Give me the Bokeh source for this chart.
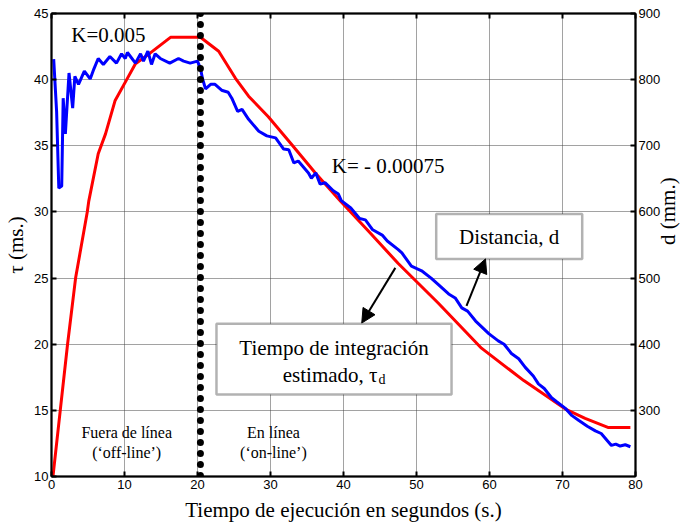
from math import pi
from bokeh.plotting import figure
from bokeh.models import (Range1d, LinearAxis, FixedTicker, Span, Label,
                          BoxAnnotation, Arrow, NormalHead)
from bokeh.embed import file_html
from bokeh.resources import INLINE

# ---- data ----
# estimated integration time tau (ms), left axis
time_tau = [0.2, 1.2, 2.2, 3.3, 4.9, 5.1, 6.4, 7.4, 8.7, 10.3, 11.5, 13.5,
            16.3, 20.4, 22.9, 25.2, 27.0, 29.7, 32.9, 36.2, 39.6, 43.5, 47.5,
            53.0, 58.9, 64.7, 70.4, 73.1, 76.3, 79.3]
tau_values = [10.0, 15.0, 20.0, 25.0, 30.0, 30.8, 34.4, 35.9, 38.4, 40.0, 41.2,
              42.0, 43.2, 43.2, 42.15, 40.1, 38.75, 37.2, 35.1, 32.9, 30.8,
              28.5, 26.1, 23.1, 19.7, 17.25, 15.1, 14.4, 13.7, 13.7]

# distance d (mm), right axis
time_d = [0.3, 0.7, 1.0, 1.4, 1.6, 1.9, 2.4, 2.9, 3.2, 3.7, 4.5, 5.3, 5.8, 6.4,
          7.1, 8.0, 8.9, 9.6, 10.1, 10.4, 11.5, 12.2, 12.6, 13.2, 13.7, 14.2,
          14.9, 16.2, 17.4, 18.1, 19.0, 20.0, 20.4, 20.7, 21.1, 21.8, 22.4,
          23.3, 24.2, 24.7, 25.5, 26.1, 27.0, 28.4, 29.5, 30.7, 31.8, 32.5,
          33.2, 33.8, 35.2, 35.6, 36.2, 36.8, 37.5, 38.6, 39.3, 39.7, 41.0,
          42.2, 43.0, 44.0, 45.3, 46.0, 47.5, 48.0, 49.3, 50.7, 52.0, 53.0,
          54.4, 55.3, 56.2, 57.0, 58.1, 59.9, 61.2, 62.0, 63.0, 64.0, 64.9,
          66.0, 66.7, 67.5, 68.5, 69.2, 70.4, 71.3, 72.2, 73.4, 74.5, 75.3,
          76.7, 77.3, 77.9, 78.6, 79.3]
d_values = [831, 752, 636, 639, 772, 718, 810, 757, 805, 793, 813, 801, 816, 832,
            823, 835, 825, 839, 832, 841, 825, 839, 828, 843, 823, 839,
            832, 825, 832, 828, 825, 828, 817, 801, 786, 793, 793,
            784, 781, 772, 752, 755, 740, 722, 715, 712, 695, 694,
            674, 677, 659, 651, 659, 642, 644, 632, 627, 617, 606,
            590, 588, 573, 565, 556, 543, 538, 518, 511, 500, 490,
            476, 470, 455, 450, 435, 416, 405, 400, 386, 378, 365,
            352, 340, 333, 319, 313, 303, 292, 285, 276, 269, 265,
            247, 249, 246, 248, 245]

switch_time = 20.4
x_ticks = [0, 10, 20, 30, 40, 50, 60, 70, 80]
tau_ticks = [10, 15, 20, 25, 30, 35, 40, 45]
d_ticks = [300, 400, 500, 600, 700, 800, 900]

SERIF = "Liberation Serif"
SANS = "Liberation Sans"

p = figure(frame_width=584, frame_height=463,
           x_range=Range1d(0, 80), y_range=Range1d(10, 45),
           output_backend="svg", toolbar_location=None,
           min_border_left=51, min_border_right=41,
           min_border_top=13, min_border_bottom=46,
           background_fill_color="white", border_fill_color="white")
p.extra_y_ranges = {"d": Range1d(200, 900)}

p.outline_line_color = "black"
p.outline_line_width = 1.5

for g in (p.xgrid[0], p.ygrid[0]):
    g.grid_line_color = "#444444"
    g.grid_line_dash = "1 1"
    g.grid_line_width = 1
p.xgrid.ticker = FixedTicker(ticks=x_ticks)
p.ygrid.ticker = FixedTicker(ticks=tau_ticks)

def style_axis(ax):
    ax.axis_line_color = "black"
    ax.axis_line_width = 2
    ax.major_tick_in = 5
    ax.major_tick_out = 0
    ax.major_tick_line_width = 2
    ax.minor_tick_line_color = None
    ax.major_label_text_font = SANS
    ax.major_label_text_font_size = "13px"
    ax.major_label_text_color = "black"
    ax.major_label_standoff = 3
    ax.axis_label_text_font = SERIF
    ax.axis_label_text_font_style = "normal"
    ax.axis_label_text_font_size = "21px"
    ax.axis_label_text_color = "black"

xa = p.xaxis[0]
style_axis(xa)
xa.ticker = FixedTicker(ticks=x_ticks)
xa.axis_label = "Tiempo de ejecución en segundos (s.)"
xa.axis_label_standoff = 6

ya = p.yaxis[0]
style_axis(ya)
ya.ticker = FixedTicker(ticks=tau_ticks)
ya.axis_label = "τ (ms.)"
ya.axis_label_standoff = 3

top = LinearAxis(ticker=FixedTicker(ticks=x_ticks))
style_axis(top)
top.major_label_overrides = {t: "" for t in x_ticks}
top.major_label_standoff = 0
p.add_layout(top, "above")

right = LinearAxis(y_range_name="d", ticker=FixedTicker(ticks=d_ticks))
style_axis(right)
right.axis_label = "d (mm.)"
right.axis_label_standoff = 5
if "axis_label_orientation" in right.properties():
    right.axis_label_orientation = pi / 2
p.add_layout(right, "right")

# curves
p.line(time_tau, tau_values, line_color="#ff0000", line_width=3)
p.line(time_d, d_values, y_range_name="d", line_color="#0000ff", line_width=3)

# switch line
p.add_layout(Span(location=switch_time, dimension="height", line_color="black",
                  line_width=7, line_dash="0 11", line_cap="round"))

def lab(x, y, text, size="21px", align="left", **kw):
    p.add_layout(Label(x=x, y=y, text=text, text_font=SERIF,
                       text_font_size=size, text_align=align,
                       text_baseline="middle", text_color="black", **kw))

lab(2.7, 43.4, "K=0.005")
lab(38.4, 33.5, "K= - 0.00075")
lab(10.3, 13.3, "Fuera de línea", "16px", "center")
lab(10.3, 11.8, "(‘off-line’)", "16px", "center")
lab(30.4, 13.3, "En línea", "16px", "center")
lab(30.4, 11.8, "(‘on-line’)", "16px", "center")

# boxes
p.add_layout(BoxAnnotation(left=22.6, right=54.8, bottom=16.2, top=21.55,
                           fill_color="white", fill_alpha=1,
                           line_color="black", line_width=2.5))
p.add_layout(BoxAnnotation(left=52.7, right=72.7, bottom=26.45, top=29.85,
                           fill_color="white", fill_alpha=1,
                           line_color="black", line_width=2.5))
lab(38.7, 19.7, "Tiempo de integración", "21px", "center")
lab(44.66, 17.7, "estimado, τ", "21px", "right")
lab(44.66, 17.7, "d", "14px", "left", x_offset=1, y_offset=-5)
lab(62.7, 28.1, "Distancia, d", "21px", "center")

# arrows
p.add_layout(Arrow(x_start=47.1, y_start=25.77, x_end=42.5, y_end=21.6,
                   line_color="black", line_width=2,
                   end=NormalHead(size=14, fill_color="black", line_color="black")))
p.add_layout(Arrow(x_start=56.85, y_start=22.9, x_end=59.45, y_end=26.45,
                   line_color="black", line_width=2,
                   end=NormalHead(size=14, fill_color="black", line_color="black")))

open("out.html", "w").write(file_html(p, INLINE))
